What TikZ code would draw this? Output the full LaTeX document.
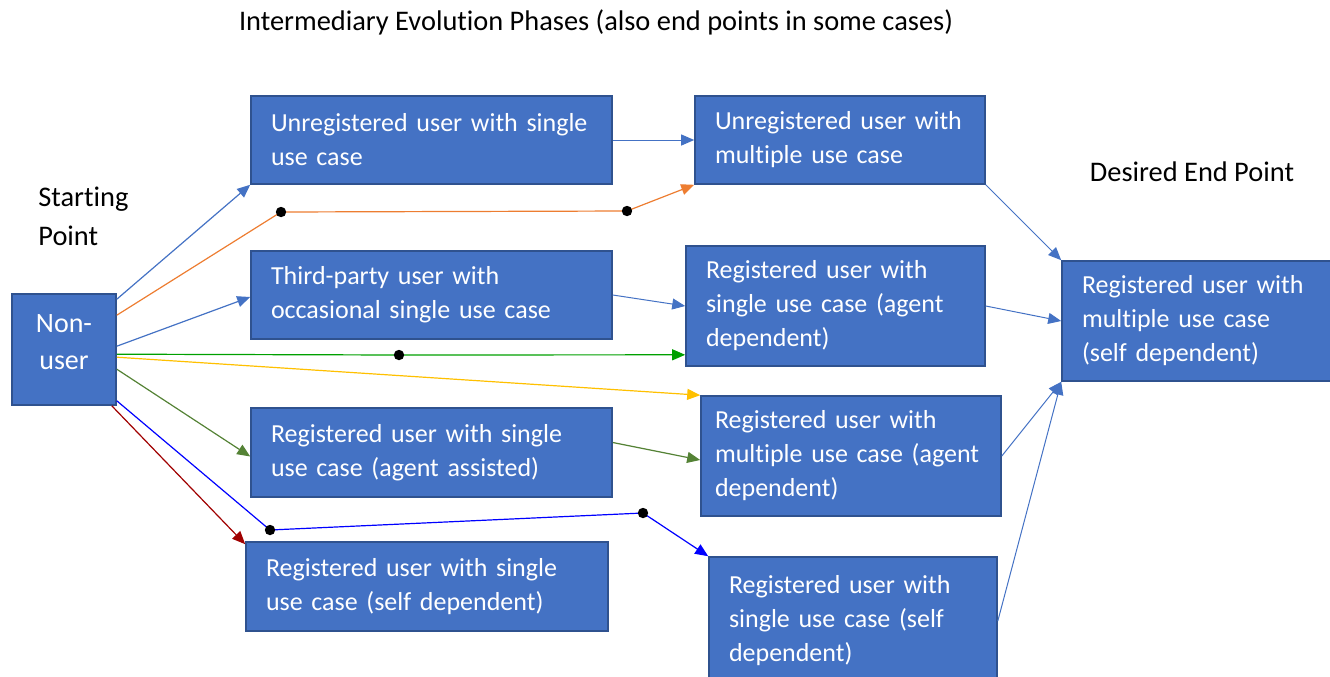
\documentclass[tikz,border=0pt]{standalone}
\usepackage{fontspec}
\setmainfont{Carlito}[Ligatures=NoCommon]
\usetikzlibrary{arrows.meta,calc}
\definecolor{phaseblue}{HTML}{4472C4}
\definecolor{phaseedge}{HTML}{2F528F}
\definecolor{lorange}{HTML}{ED7D31}
\definecolor{lgold}{HTML}{FFC000}
\definecolor{lgreen}{HTML}{00A000}
\definecolor{lolive}{HTML}{548235}
\definecolor{lred}{HTML}{A00000}
\definecolor{lblue}{HTML}{0000FF}
\begin{document}
\begin{tikzpicture}[x=.5pt,y=-.5pt,
	phase/.style={draw=phaseedge,line width=.8pt,fill=phaseblue,text=white,align=left,
		inner xsep=10pt,inner ysep=0pt,font=\fontsize{13}{17}\selectfont},
	caption/.style={inner sep=0pt,font=\fontsize{14.2}{19.5}\selectfont},
	link/.style={-{Triangle[length=6.5pt,width=5.5pt]},line width=.6pt}]
	\useasboundingbox (0,0) rectangle (1330,676);
	\node[phase,align=center,text width=40pt,inner xsep=6pt,minimum height=55.5pt,text depth=26pt,
		font=\fontsize{14}{18.5}\selectfont] (nonuser) at (64,349.5) {Non-\\user};
	\node[phase,text width=160.5pt,minimum height=44pt] (u1) at (431.5,140) {Unregistered user with single\\use case};
	\node[phase,text width=125pt,minimum height=44pt] (u2) at (840,140) {Unregistered user with\\multiple use case};
	\node[phase,text width=160.5pt,minimum height=44pt] (tp) at (431.5,295) {Third-party user with\\occasional single use case};
	\node[phase,text width=129.5pt,minimum height=60pt] (ra) at (835.5,306) {Registered user with\\single use case (agent\\dependent)};
	\node[phase,text width=160.5pt,minimum height=44.5pt] (rsa) at (431.5,452.5) {Registered user with single\\use case (agent assisted)};
	\node[phase,text width=136pt,inner xsep=7pt,minimum height=60pt] (rma) at (851,456) {Registered user with\\multiple use case (agent\\dependent)};
	\node[phase,text width=161pt,minimum height=44.5pt] (rss) at (427,586.5) {Registered user with single\\use case (self dependent)};
	\node[phase,text width=124pt,minimum height=64pt] (rsd) at (853,621) {Registered user with\\single use case (self\\dependent)};
	\node[phase,text width=125pt,minimum height=60pt] (goal) at (1207,321) {Registered user with\\multiple use case\\(self dependent)};
	\node[caption] (phases) at (596,22) {Intermediary Evolution Phases (also end points in some cases)};
	\node[caption,align=left,anchor=west] (start) at (38,216.5) {Starting\\Point};
	\node[caption] (desired) at (1192,172) {Desired End Point};
	\path (281,212) coordinate (o1) (627,211) coordinate (o2) (399,355) coordinate (g1)
		(270,530) coordinate (b1) (643,513) coordinate (b2);
	% from the non-user
	\draw[link,phaseblue] ($(nonuser.north east)+(0,6)$) -- (u1.south west);
	\draw[link,lorange] ($(nonuser.north east)+(0,22)$) -- (o1) -- (o2) -- (u2.south west);
	\draw[link,phaseblue] ($(nonuser.north east)+(0,53)$) -- ($(tp.west)+(0,2)$);
	\draw[link,lgreen] ($(nonuser.north east)+(0,61)$) -- (g1) -- ($(ra.south west)+(0,-12)$);
	\draw[link,lgold] ($(nonuser.north east)+(0,64)$) -- (rma.north west);
	\draw[link,lolive] ($(nonuser.north east)+(0,76)$) -- ($(rsa.west)+(0,4)$);
	\draw[link,lblue] ($(nonuser.south east)+(0,-5)$) -- (b1) -- (b2) -- (rsd.north west);
	\draw[link,lred] ($(nonuser.south east)+(-5,0)$) -- ($(rss.north west)+(0,3)$);
	% between phases
	\draw[link,lolive] ($(rsa.east)+(0,-10)$) -- ($(rma.west)+(0,4)$);
	\foreach \s/\t in {u1.east/u2.west,tp.east/ra.west,u2.south east/goal.north west,
		ra.east/goal.west,rma.east/goal.south west,rsd.east/goal.south west}
		\draw[link,phaseblue,line width=.5pt] (\s) -- (\t);
	\foreach \d in {o1,o2,g1,b1,b2} \fill (\d) circle (2.6pt);
\end{tikzpicture}
\end{document}
